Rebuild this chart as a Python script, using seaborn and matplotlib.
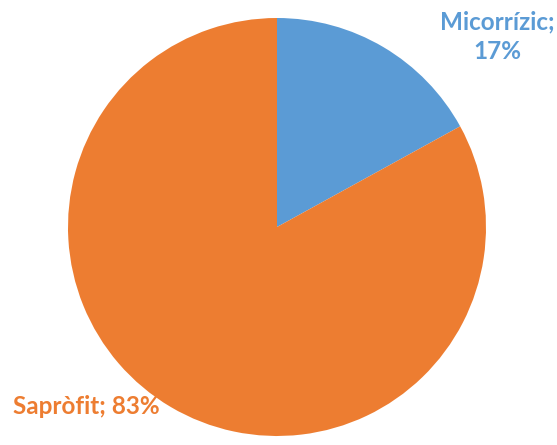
import matplotlib
matplotlib.use("Agg")
import matplotlib.pyplot as plt
import seaborn as sns

categories = ["Micorrízic", "Sapròfit"]
values = [17, 83]
colors = ["#5B9BD5", "#ED7D31"]

sns.set_theme(style="white")
plt.rcParams['font.family'] = ['Lato', 'DejaVu Sans']

fig = plt.figure(figsize=(5.57, 4.45), dpi=100)
ax = fig.add_axes([0, 0, 1, 1])

ax.pie(values, colors=colors, startangle=90, counterclock=False,
       center=(277, 445 - 227), radius=209, frame=True,
       wedgeprops=dict(linewidth=0))
ax.set_xlim(0, 557)
ax.set_ylim(0, 445)
ax.axis("off")

ax.text(497, 445 - 37, f"{categories[0]};\n{values[0]}%", color=colors[0],
        fontsize=17.5, fontweight="bold", ha="center", va="center", linespacing=1.35)
ax.text(86, 445 - 407, f"{categories[1]}; {values[1]}%", color=colors[1],
        fontsize=17.5, fontweight="bold", ha="center", va="center")

fig.savefig("out.png", dpi=100)
